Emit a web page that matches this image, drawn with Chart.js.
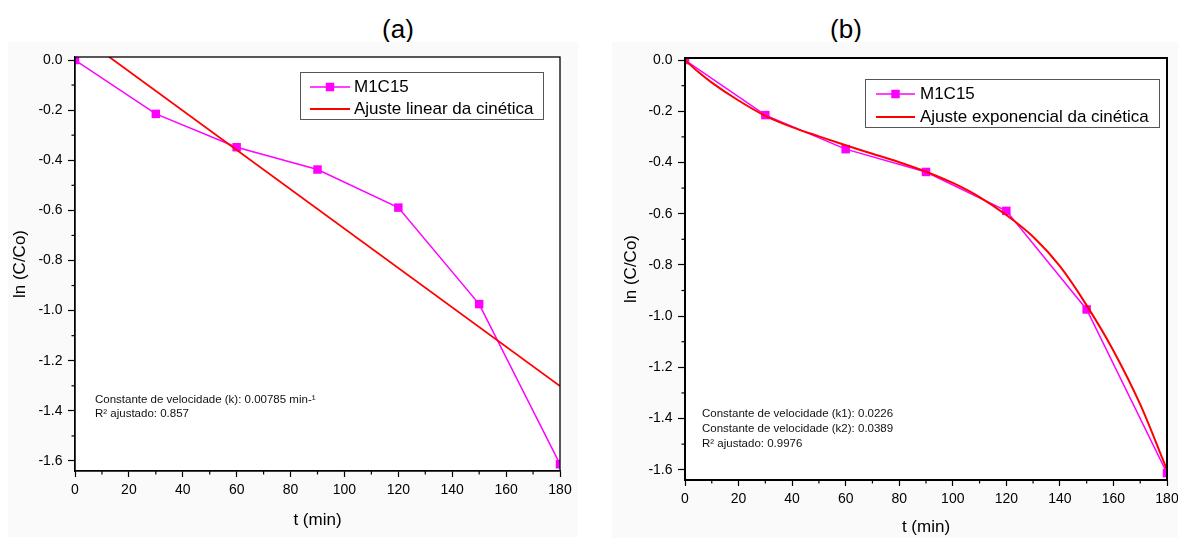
<!DOCTYPE html>
<html lang="pt">
<head>
<meta charset="utf-8">
<title>Cinética M1C15</title>
<script src="https://cdn.jsdelivr.net/npm/chart.js@4.4.1/dist/chart.umd.min.js"></script>
<style>
  html, body { margin: 0; padding: 0; background: #fff; }
  #page { position: relative; width: 1178px; height: 538px; overflow: hidden;
          font-family: "Liberation Sans", Arial, sans-serif; }
  .panel { position: absolute; background: #fafafa; }
  .panel canvas { display: block; }
  .tag { position: absolute; font-size: 26px; line-height: 1; color: #000;
         transform: translate(-50%, -50%); }
</style>
</head>
<body>
<div id="page">
  <div class="tag" style="left:398px; top:29px">(a)</div>
  <div class="tag" style="left:846px; top:29px">(b)</div>
  <div class="panel" style="left:8px; top:42px; width:570px; height:495px">
    <canvas id="chartA" width="570" height="495"></canvas>
  </div>
  <div class="panel" style="left:612px; top:42px; width:590px; height:496px">
    <canvas id="chartB" width="590" height="496"></canvas>
  </div>
</div>
<script>
// sampling times (min) and ln(C/Co) for sample M1C15
const times = [0, 30, 60, 90, 120, 150, 180];
const lnM1C15 = [0, -0.215, -0.348, -0.437, -0.589, -0.974, -1.613];

// linear fit ln(C/Co) = b - k t, taken at both ends of the time range
const linFitT = [0, 180];
const linFitY = [0.112, -1.301];

// exponential fit curve
const expFitT = [0, 5, 10, 20, 30, 40, 50, 60, 70, 80, 90, 100, 110, 120, 130, 140, 150, 160, 170, 180];
const expFitY = [0, -0.047, -0.088, -0.158, -0.218, -0.262, -0.298, -0.333, -0.366, -0.399, -0.436,
                 -0.48, -0.535, -0.605, -0.69, -0.805, -0.958, -1.135, -1.345, -1.6];

// fit results printed inside the plots
const notesLinear = ['Constante de velocidade (k): 0.00785 min-\u00b9', 'R\u00b2 ajustado: 0.857'];
const notesExp = ['Constante de velocidade (k1): 0.0226', 'Constante de velocidade (k2): 0.0389',
                  'R\u00b2 ajustado: 0.9976'];

const FONT = '"Liberation Sans", Arial, sans-serif';
const MAGENTA = '#ff00ff';
const RED = '#ff0000';

Chart.defaults.font.family = FONT;
Chart.defaults.color = '#000';

const toPoints = (xs, ys) => xs.map((x, i) => ({ x: x, y: ys[i] }));
const isMajorX = v => Math.round(v) % 20 === 0;
const isMajorY = v => Math.round(v * 10) % 2 === 0;

function line(ctx, x1, y1, x2, y2) {
  ctx.beginPath();
  ctx.moveTo(x1, y1);
  ctx.lineTo(x2, y2);
  ctx.stroke();
}

// white plot area, closed frame, short minor ticks, boxed legend and fit notes
const panelDecor = {
  id: 'panelDecor',
  beforeDraw(chart) {
    const a = chart.chartArea;
    chart.ctx.save();
    chart.ctx.fillStyle = '#fff';
    chart.ctx.fillRect(a.left, a.top, a.right - a.left, a.bottom - a.top);
    chart.ctx.restore();
  },
  afterDraw(chart, args, opts) {
    const ctx = chart.ctx;
    const a = chart.chartArea;
    const xs = chart.scales.x;
    const ys = chart.scales.y;
    ctx.save();

    ctx.strokeStyle = '#000';
    ctx.lineWidth = opts.frameWidth;
    ctx.strokeRect(a.left, a.top, a.right - a.left, a.bottom - a.top);

    ctx.lineWidth = 1.2;
    xs.ticks.forEach(t => {
      if (isMajorX(t.value)) return;
      const px = xs.getPixelForValue(t.value);
      line(ctx, px, a.bottom, px, a.bottom + opts.minorTick);
    });
    ys.ticks.forEach(t => {
      if (isMajorY(t.value)) return;
      const py = ys.getPixelForValue(t.value);
      line(ctx, a.left - opts.minorTick, py, a.left, py);
    });

    // legend
    const L = opts.legend;
    ctx.fillStyle = '#fff';
    ctx.fillRect(L.x, L.y, L.w, L.h);
    ctx.strokeStyle = '#555';
    ctx.lineWidth = 1;
    ctx.strokeRect(L.x + 0.5, L.y + 0.5, L.w, L.h);
    ctx.font = '17px ' + FONT;
    ctx.textBaseline = 'middle';
    chart.data.datasets.forEach((ds, i) => {
      const cy = L.rows[i];
      ctx.strokeStyle = ds.borderColor;
      ctx.lineWidth = ds.borderWidth;
      line(ctx, L.lineFrom, cy, L.lineTo, cy);
      if (ds.pointRadius) {
        ctx.fillStyle = ds.backgroundColor;
        Chart.helpers.drawPoint(ctx, { pointStyle: ds.pointStyle, radius: ds.pointRadius, borderWidth: 0, rotation: 0 },
          (L.lineFrom + L.lineTo) / 2, cy);
      }
      ctx.fillStyle = '#000';
      ctx.fillText(ds.label, L.textX, cy);
    });

    // fit notes
    ctx.font = '11.5px ' + FONT;
    ctx.fillStyle = '#111';
    opts.notes.forEach((txt, i) => ctx.fillText(txt, opts.noteX, opts.noteY[i]));

    ctx.restore();
  }
};

function makePanel(canvasId, datasets, geo) {
  const ctx = document.getElementById(canvasId).getContext('2d');
  return new Chart(ctx, {
    type: 'line',
    data: { datasets: datasets },
    plugins: [panelDecor],
    options: {
      responsive: false,
      animation: false,
      events: [],
      layout: { padding: geo.padding },
      plugins: {
        legend: { display: false },
        tooltip: { enabled: false },
        panelDecor: geo.decor
      },
      scales: {
        x: {
          type: 'linear',
          position: 'bottom',
          min: 0,
          max: 180,
          afterFit: s => { s.height = geo.xAxisHeight; },
          ticks: {
            stepSize: 10,
            autoSkip: false,
            maxRotation: 0,
            padding: 5,
            font: { size: 14 },
            callback: v => (isMajorX(v) ? String(v) : '')
          },
          grid: {
            drawOnChartArea: false,
            tickLength: 6,
            tickWidth: 1.2,
            tickColor: c => (isMajorX(c.tick.value) ? '#000' : 'rgba(0,0,0,0)')
          },
          border: { color: '#000', width: geo.decor.frameWidth },
          title: {
            display: true,
            text: 't (min)',
            font: { size: 17, lineHeight: 1.2 },
            padding: { top: 0, bottom: geo.xTitlePad }
          }
        },
        y: {
          type: 'linear',
          min: -1.64,
          max: geo.yMax,
          afterFit: s => { s.width = geo.yAxisWidth; },
          ticks: {
            stepSize: 0.1,
            includeBounds: false,
            autoSkip: false,
            padding: 5.5,
            font: { size: 14 },
            callback: v => (isMajorY(v) ? v.toFixed(1) : '')
          },
          grid: {
            drawOnChartArea: false,
            tickLength: 7,
            tickWidth: 1.2,
            tickColor: c => (isMajorY(c.tick.value) ? '#000' : 'rgba(0,0,0,0)')
          },
          border: { color: '#000', width: geo.decor.frameWidth },
          title: {
            display: true,
            text: 'ln (C/Co)',
            font: { size: 17, lineHeight: 1.2 },
            padding: { top: geo.yTitlePad, bottom: 0 }
          }
        }
      }
    }
  });
}

function sampleSeries() {
  return {
    label: 'M1C15',
    data: toPoints(times, lnM1C15),
    borderColor: MAGENTA,
    backgroundColor: MAGENTA,
    borderWidth: 1.5,
    pointStyle: 'rect',
    pointRadius: 6,
    pointBorderWidth: 0,
    tension: 0,
    order: 1
  };
}

makePanel('chartA', [
  sampleSeries(),
  {
    label: 'Ajuste linear da cinética',
    data: toPoints(linFitT, linFitY),
    borderColor: RED,
    backgroundColor: RED,
    borderWidth: 1.8,
    pointRadius: 0,
    order: 0
  }
], {
  padding: { left: 0, top: 15, right: 18, bottom: 0 },
  yAxisWidth: 67,
  xAxisHeight: 66,
  yTitlePad: 1.8,
  xTitlePad: 6.8,
  yMax: 0.012,
  decor: {
    frameWidth: 1.3,
    minorTick: 3.5,
    legend: { x: 292, y: 30, w: 243, h: 47, rows: [45, 67], lineFrom: 302, lineTo: 342, textX: 346 },
    notes: notesLinear,
    noteX: 87,
    noteY: [358, 372]
  }
});

makePanel('chartB', [
  sampleSeries(),
  {
    label: 'Ajuste exponencial da cinética',
    data: toPoints(expFitT, expFitY),
    borderColor: RED,
    backgroundColor: RED,
    borderWidth: 2,
    pointRadius: 0,
    tension: 0.4,
    cubicInterpolationMode: 'monotone',
    order: 0
  }
], {
  padding: { left: 0, top: 16, right: 35, bottom: 0 },
  yAxisWidth: 73,
  xAxisHeight: 58,
  yTitlePad: 8.8,
  xTitlePad: 0,
  yMax: 0.008,
  decor: {
    frameWidth: 2,
    minorTick: 3.5,
    legend: { x: 253, y: 37, w: 294, h: 48, rows: [52, 75], lineFrom: 264, lineTo: 303, textX: 308 },
    notes: notesExp,
    noteX: 90,
    noteY: [372, 387, 402]
  }
});
</script>
</body>
</html>
